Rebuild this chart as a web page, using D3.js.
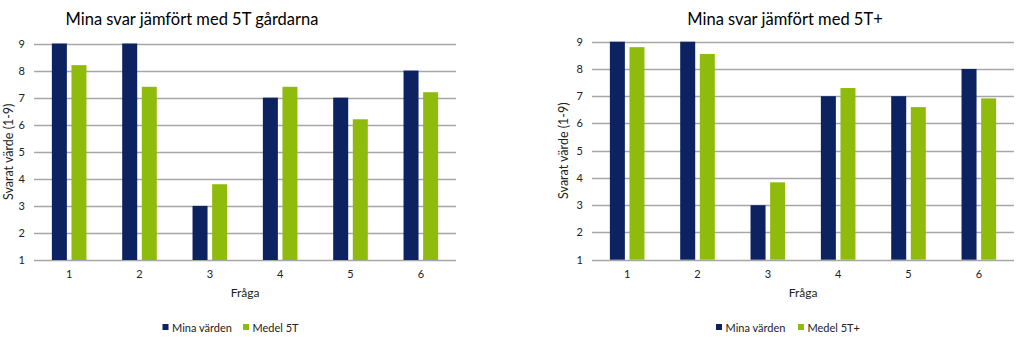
<!DOCTYPE html>
<html>
<head>
<meta charset="utf-8">
<script src="https://cdn.jsdelivr.net/npm/d3@7"></script>
<style>
  html, body { margin: 0; padding: 0; background: #fff; }
  svg { display: block; font-family: Lato, "Open Sans", sans-serif; }
</style>
</head>
<body>
<svg id="chart" width="1024" height="340"></svg>
<script>
// Question numbers on the x axis
const questions = ["1", "2", "3", "4", "5", "6"];
// Own answers (same in both charts)
const minaVarden = [9, 9, 3, 7, 7, 8];
// Average of the 5T farms
const medel5T = [8.2, 7.4, 3.8, 7.4, 6.2, 7.2];
// Average of 5T+
const medel5TPlus = [8.8, 8.55, 3.84, 7.3, 6.6, 6.92];
// Y axis ticks
const yTicks = [1, 2, 3, 4, 5, 6, 7, 8, 9];

const NAVY = "#0c2261";
const GREEN = "#8fbc0c";
const GRID = "#a6a6a6";

const svg = d3.select("#chart");

function drawChart(cfg) {
  const g = svg.append("g");
  const x = d3.scaleBand().domain(questions).range([cfg.left, cfg.right]).paddingInner(0).paddingOuter(0);
  const y = d3.scaleLinear().domain([1, 9]).range([cfg.bottom, cfg.top]);

  // Title
  g.append("text")
    .attr("x", cfg.titleX).attr("y", 25)
    .attr("text-anchor", "middle")
    .attr("font-size", 16.5).attr("fill", "#000")
    .text(cfg.title);

  // Gridlines
  g.append("g").selectAll("line").data(yTicks).join("line")
    .attr("x1", cfg.left).attr("x2", cfg.right)
    .attr("y1", d => Math.round(y(d)) + 0.5).attr("y2", d => Math.round(y(d)) + 0.5)
    .attr("stroke", GRID).attr("stroke-width", 1.3);

  // Y axis tick labels
  const yAxis = d3.axisLeft(y).tickValues(yTicks).tickSize(0).tickPadding(0).tickFormat(d3.format("d"));
  const ya = g.append("g").attr("transform", `translate(${cfg.left - 9},0)`).call(yAxis);
  ya.select(".domain").remove();
  ya.selectAll("text").attr("font-size", 11).attr("fill", "#222").attr("font-family", "Lato, sans-serif");

  // X axis tick labels
  const xAxis = d3.axisBottom(x).tickSize(0).tickPadding(0);
  const xa = g.append("g").attr("transform", `translate(0,${cfg.bottom + 10})`).call(xAxis);
  xa.select(".domain").remove();
  xa.selectAll("text").attr("font-size", 11).attr("fill", "#222").attr("font-family", "Lato, sans-serif");

  // Bars
  const barW = 15, gap = 4.6;
  const series = [
    { values: minaVarden, color: NAVY, offset: -gap / 2 - barW },
    { values: cfg.avg, color: GREEN, offset: gap / 2 }
  ];
  series.forEach(s => {
    g.append("g").selectAll("rect").data(questions).join("rect")
      .attr("x", (d) => x(d) + x.bandwidth() / 2 + s.offset)
      .attr("width", barW)
      .attr("y", (d, i) => y(s.values[i]))
      .attr("height", (d, i) => y(1) - y(s.values[i]))
      .attr("fill", s.color);
  });

  // Axis titles
  g.append("text")
    .attr("x", (cfg.left + cfg.right) / 2).attr("y", cfg.bottom + 37)
    .attr("text-anchor", "middle").attr("font-size", 12).attr("fill", "#222")
    .text("Fråga");
  g.append("text")
    .attr("transform", `translate(${cfg.yTitleX},${(cfg.top + cfg.bottom) / 2}) rotate(-90)`)
    .attr("text-anchor", "middle").attr("font-size", 12.5).attr("fill", "#222")
    .text("Svarat värde (1-9)");

  // Legend
  const leg = g.append("g");
  const items = [
    { label: "Mina värden", color: NAVY, x: cfg.legX[0] },
    { label: cfg.avgLabel, color: GREEN, x: cfg.legX[1] }
  ];
  items.forEach(it => {
    leg.append("rect").attr("x", it.x).attr("y", 324).attr("width", 6).attr("height", 6).attr("fill", it.color);
    leg.append("text").attr("x", it.x + 9.5).attr("y", 331.5)
      .attr("font-size", 11).attr("fill", "#222").text(it.label);
  });
}

drawChart({
  title: "Mina svar jämfört med 5T gårdarna",
  titleX: 192,
  left: 34, right: 456, top: 43.5, bottom: 260,
  yTitleX: 13,
  avg: medel5T, avgLabel: "Medel 5T",
  legX: [162.5, 243]
});

drawChart({
  title: "Mina svar jämfört med 5T+",
  titleX: 785,
  left: 592, right: 1014, top: 41.7, bottom: 259.7,
  yTitleX: 568,
  avg: medel5TPlus, avgLabel: "Medel 5T+",
  legX: [716, 798]
});
</script>
</body>
</html>
